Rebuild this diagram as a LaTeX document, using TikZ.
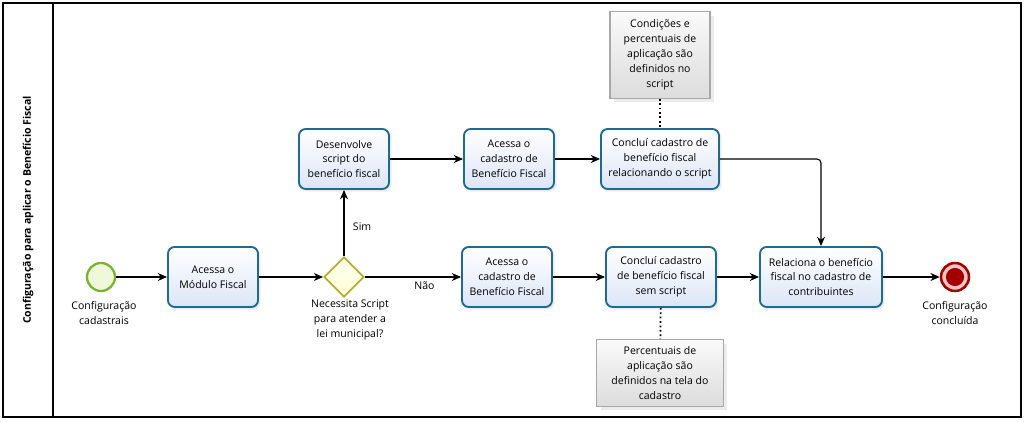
\documentclass[tikz,border=0pt]{standalone}
\usepackage{fontspec}
\setmainfont{Open Sans}
\usetikzlibrary{arrows.meta, shapes.geometric, shadows}
\definecolor{tasklinha}{HTML}{1E6A92}
\definecolor{taskfundo}{HTML}{DCE5F6}
\definecolor{inicioverde}{HTML}{78B52A}
\definecolor{iniciofundo}{HTML}{EFF8DA}
\definecolor{gateoliva}{HTML}{B3AE2E}
\definecolor{gatefundo}{HTML}{FFFFD6}
\definecolor{fimvermelho}{HTML}{A30000}
\definecolor{fimrosa}{HTML}{F2C4C4}
\definecolor{notalinha}{HTML}{A8A8A8}
\definecolor{notafundo}{HTML}{DCDCDC}

\begin{document}
\begin{tikzpicture}[x=0.75pt, y=-0.75pt,
    every node/.style={font=\fontsize{7.9}{11.2}\selectfont},
    tarefa/.style={draw=tasklinha, line width=1.4pt, rounded corners=5pt,
      top color=white, bottom color=taskfundo, align=center,
      minimum width=67.5pt, minimum height=45pt, inner sep=2pt,
      drop shadow={shadow xshift=2pt, shadow yshift=-2pt, opacity=0.15}},
    nota/.style={draw=notalinha, line width=0.8pt, top color=white!85!notafundo,
      bottom color=notafundo, align=center, inner sep=2pt,
      drop shadow={shadow xshift=3pt, shadow yshift=-3pt, opacity=0.15}},
    fluxo/.style={-{Stealth[length=7pt, width=6pt]}, black, line width=0.8pt},
    associacao/.style={dotted, line width=1.3pt}]

  % Fix the page size
  \useasboundingbox (0,0) rectangle (1027,424);

  % Draw the pool and its lane header
  \draw[line width=0.8pt] (3,3) rectangle (1021,417);
  \draw[line width=0.8pt] (53,3) -- (53,417);
  \node[rotate=90, font=\fontsize{7.9}{10}\selectfont\bfseries] (titulo) at (28,210)
    {Configuração para aplicar o Benefício Fiscal};

  % Start and end events
  \node[circle, draw=inicioverde, line width=1.7pt, fill=iniciofundo,
    minimum size=21pt] (inicio) at (101,277) {};
  \node[align=center] (inicioTxt) at (104,313) {Configuração\\cadastrais};
  \node[circle, draw=fimvermelho, line width=1.9pt, fill=fimrosa,
    minimum size=21pt] (fim) at (955,277) {};
  \fill[fimvermelho] (fim) circle (6.8pt);
  \node[align=center] (fimTxt) at (955,313) {Configuração\\concluída};

  % Tasks
  \node[tarefa] (modulo) at (213,277) {Acessa o\\Módulo Fiscal};
  \node[tarefa] (desenvolve) at (344,159) {Desenvolve\\script do\\benefício fiscal};
  \node[tarefa] (cadastroA) at (509,159) {Acessa o\\cadastro de\\Benefício Fiscal};
  \node[tarefa, minimum width=88.5pt] (concluiA) at (660,159)
    {Concluí cadastro de\\benefício fiscal\\relacionando o script};
  \node[tarefa] (cadastroB) at (507,277) {Acessa o\\cadastro de\\Benefício Fiscal};
  \node[tarefa, minimum width=82.5pt] (concluiB) at (661,277)
    {Concluí cadastro\\de benefício fiscal\\sem script};
  \node[tarefa, minimum width=91.5pt] (relaciona) at (821,277)
    {Relaciona o benefício\\fiscal no cadastro de\\contribuintes};

  % Gateway
  \node[diamond, aspect=1, draw=gateoliva, line width=1.3pt,
    top color=white!60!gatefundo, bottom color=gatefundo,
    minimum size=30pt, inner sep=0pt] (decisao) at (344,277) {};
  \node[align=center] (decisaoTxt) at (350,320)
    {Necessita Script\\para atender a\\lei municipal?};

  % Annotations
  \node[nota, minimum width=75pt, minimum height=65pt] (notaA) at (660,55)
    {Condições e\\percentuais de\\aplicação são\\definidos no\\script};
  \node[nota, minimum width=95pt, minimum height=50pt] (notaB) at (660,373)
    {Percentuais de\\aplicação são\\definidos na tela do\\cadastro};

  % Sequence flows
  \draw[fluxo] (inicio) -- (modulo);
  \draw[fluxo] (modulo) -- (decisao);
  \draw[fluxo] (decisao) -- node[right=3pt, pos=0.45] {Sim} (desenvolve);
  \draw[fluxo] (decisao) -- node[below, pos=0.62] {Não} (cadastroB);
  \draw[fluxo] (desenvolve) -- (cadastroA);
  \draw[fluxo] (cadastroA) -- (concluiA);
  \draw[fluxo, rounded corners=3pt] (concluiA.east) -| (relaciona.north);
  \draw[fluxo] (cadastroB) -- (concluiB);
  \draw[fluxo] (concluiB) -- (relaciona);
  \draw[fluxo] (relaciona) -- (fim);

  % Associations
  \draw[associacao] (notaA) -- (concluiA);
  \draw[associacao] (concluiB) -- (notaB);
\end{tikzpicture}
\end{document}
